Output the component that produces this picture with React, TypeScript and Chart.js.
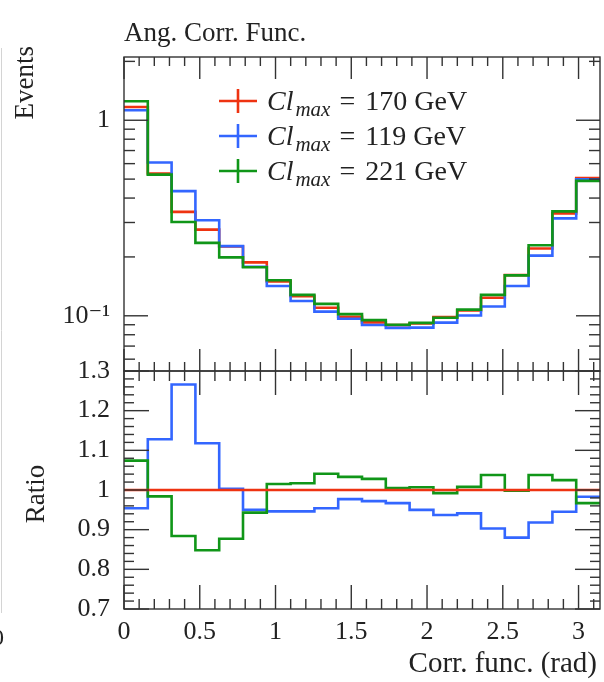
import React, { useEffect, useRef } from "react";
import { Chart, registerables } from "chart.js";

Chart.register(...registerables);

// ---------- data ----------
const nBins = 20;
const xMax = Math.PI;
const binEdges = Array.from({ length: nBins + 1 }, (_, i) => (i * xMax) / nBins);

const seriesNames = ["170 GeV", "119 GeV", "221 GeV"];
const seriesColors = ["#EE3311", "#3366FF", "#109618"];

const events170 = [1.169, 0.534, 0.340, 0.276, 0.226, 0.1875, 0.150, 0.126, 0.110, 0.0988,
  0.0925, 0.0896, 0.0915, 0.0985, 0.1066, 0.1236, 0.1615, 0.221, 0.334, 0.507];
const events119 = [1.125, 0.608, 0.434, 0.308, 0.227, 0.178, 0.142, 0.119, 0.105, 0.0965,
  0.0897, 0.0867, 0.0870, 0.0923, 0.1003, 0.1116, 0.142, 0.203, 0.315, 0.499];
const events221 = [1.251, 0.527, 0.302, 0.236, 0.199, 0.177, 0.152, 0.128, 0.115, 0.102,
  0.0950, 0.0900, 0.0920, 0.0977, 0.1075, 0.128, 0.161, 0.2295, 0.342, 0.490];

const ratio170 = [1, 1, 1, 1, 1, 1, 1, 1, 1, 1, 1, 1, 1, 1, 1, 1, 1, 1, 1, 1];
const ratio119 = [0.954, 1.128, 1.266, 1.118, 1.003, 0.950, 0.946, 0.946, 0.954, 0.977,
  0.972, 0.967, 0.950, 0.937, 0.941, 0.903, 0.880, 0.918, 0.945, 0.983];
const ratio221 = [1.074, 0.984, 0.884, 0.848, 0.877, 0.943, 1.015, 1.017, 1.041, 1.033,
  1.028, 1.005, 1.007, 0.992, 1.008, 1.038, 0.998, 1.038, 1.025, 0.967];

const xTickValues = [0, 0.5, 1, 1.5, 2, 2.5, 3];
const xTickLabels = ["0", "0.5", "1", "1.5", "2", "2.5", "3"];
const xMinorValues = [0.1, 0.2, 0.3, 0.4, 0.6, 0.7, 0.8, 0.9, 1.1, 1.2, 1.3, 1.4, 1.6, 1.7, 1.8, 1.9,
  2.1, 2.2, 2.3, 2.4, 2.6, 2.7, 2.8, 2.9, 3.1];

const eventsTickValues = [0.1, 1];
const eventsTickLabels = ["10\u207B\u00B9", "1"];
const eventsMinorValues = [0.06, 0.07, 0.08, 0.09, 0.2, 0.3, 0.4, 0.5, 0.6, 0.7, 0.8, 0.9, 2];
const eventsMin = 0.0522;
const eventsMax = 2.106;

const ratioTickValues = [0.7, 0.8, 0.9, 1, 1.1, 1.2, 1.3];
const ratioTickLabels = ["0.7", "0.8", "0.9", "1", "1.1", "1.2", "1.3"];
const ratioMinorValues = [0.72, 0.74, 0.76, 0.78, 0.82, 0.84, 0.86, 0.88, 0.92, 0.94, 0.96, 0.98,
  1.02, 1.04, 1.06, 1.08, 1.12, 1.14, 1.16, 1.18, 1.22, 1.24, 1.26, 1.28];

const titleText = "Ang. Corr. Func.";
const yTitleTop = "Events";
const yTitleBottom = "Ratio";
const xTitle = "Corr. func. (rad)";

const FONT = "'Liberation Serif', 'DejaVu Serif', serif";

function toSteps(values: number[]) {
  const pts = values.map((v, i) => ({ x: binEdges[i], y: v }));
  pts.push({ x: binEdges[values.length], y: values[values.length - 1] });
  return pts;
}

function lineDs(label: string, values: number[], color: string, axis: string) {
  return {
    label,
    data: toSteps(values),
    yAxisID: axis,
    xAxisID: "x",
    borderColor: color,
    backgroundColor: color,
    borderWidth: 2.6,
    stepped: "before" as const,
    pointRadius: 0,
    fill: false,
    tension: 0,
  };
}

const decorPlugin = {
  id: "decor",
  afterDraw(chart: any) {
    const ctx = chart.ctx as CanvasRenderingContext2D;
    const x = chart.scales.x;
    const yT = chart.scales.y;
    const yB = chart.scales.y2;
    const L = chart.chartArea.left;
    const R = chart.chartArea.right;
    ctx.save();
    ctx.strokeStyle = "#333";
    ctx.lineWidth = 1.4;
    ctx.lineCap = "butt";

    const seg = (x1: number, y1: number, x2: number, y2: number) => {
      ctx.beginPath();
      ctx.moveTo(x1, y1);
      ctx.lineTo(x2, y2);
      ctx.stroke();
    };

    // frames
    ctx.strokeRect(L, yT.top, R - L, yT.bottom - yT.top);
    ctx.strokeRect(L, yB.top, R - L, yB.bottom - yB.top);

    // x ticks on both panels
    const panels = [
      { top: yT.top, bottom: yT.bottom, maj: 22, min: 9 },
      { top: yB.top, bottom: yB.bottom, maj: 24, min: 10 },
    ];
    for (const p of panels) {
      for (const v of xTickValues) {
        const px = x.getPixelForValue(v);
        seg(px, p.top, px, p.top + p.maj);
        seg(px, p.bottom, px, p.bottom - p.maj);
      }
      for (const v of xMinorValues) {
        const px = x.getPixelForValue(v);
        seg(px, p.top, px, p.top + p.min);
        seg(px, p.bottom, px, p.bottom - p.min);
      }
    }
    // y ticks top (log)
    for (const v of eventsTickValues) {
      const py = yT.getPixelForValue(v);
      seg(L, py, L + 24, py);
      seg(R, py, R - 24, py);
    }
    for (const v of eventsMinorValues) {
      const py = yT.getPixelForValue(v);
      seg(L, py, L + 11, py);
      seg(R, py, R - 11, py);
    }
    // y ticks bottom (ratio)
    for (const v of ratioTickValues) {
      const py = yB.getPixelForValue(v);
      seg(L, py, L + 25, py);
      seg(R, py, R - 25, py);
    }
    for (const v of ratioMinorValues) {
      const py = yB.getPixelForValue(v);
      seg(L, py, L + 10, py);
      seg(R, py, R - 10, py);
    }

    // faint edge of the neighbouring panel
    ctx.strokeStyle = "#d4d4d4";
    ctx.lineWidth = 1;
    seg(1.5, 48, 1.5, 613);

    ctx.fillStyle = "#222";
    // title
    ctx.font = `27px ${FONT}`;
    ctx.textAlign = "left";
    ctx.textBaseline = "alphabetic";
    ctx.fillText(titleText, L, 41);

    // x title
    ctx.font = `29px ${FONT}`;
    ctx.textAlign = "right";
    ctx.fillText(xTitle, R - 3, 672);

    // partial neighbour tick label
    ctx.font = `24px ${FONT}`;
    ctx.textAlign = "left";
    ctx.fillText("0", -8, 645);

    // y titles
    ctx.font = `27px ${FONT}`;
    ctx.save();
    ctx.translate(33, 46);
    ctx.rotate(-Math.PI / 2);
    ctx.textAlign = "right";
    ctx.textBaseline = "alphabetic";
    ctx.fillText(yTitleTop, 0, 0);
    ctx.restore();
    ctx.save();
    ctx.translate(44, (yB.top + yB.bottom) / 2 + 4);
    ctx.rotate(-Math.PI / 2);
    ctx.textAlign = "center";
    ctx.textBaseline = "alphabetic";
    ctx.fillText(yTitleBottom, 0, 0);
    ctx.restore();

    // legend
    const legendOrder = [0, 1, 2];
    legendOrder.forEach((k, i) => {
      const cy = 101 + i * 35;
      ctx.strokeStyle = seriesColors[k];
      ctx.lineWidth = 2.6;
      seg(219, cy, 257, cy);
      seg(238, cy - 12, 238, cy + 12);
      ctx.fillStyle = "#222";
      let tx = 267;
      const base = cy + 9;
      ctx.textAlign = "left";
      ctx.font = `italic 28px ${FONT}`;
      ctx.fillText("Cl", tx, base);
      tx += ctx.measureText("Cl").width + 2;
      ctx.font = `italic 21px ${FONT}`;
      ctx.fillText("max", tx, base + 6);
      tx += ctx.measureText("max").width + 9;
      ctx.font = `28px ${FONT}`;
      ctx.fillText("=", tx, base);
      tx += ctx.measureText("=").width + 10;
      ctx.fillText(seriesNames[k], tx, base);
    });

    ctx.restore();
  },
};

export default function App() {
  const ref = useRef<HTMLCanvasElement>(null);
  useEffect(() => {
    if (!ref.current) return;
    const tickFont = { family: FONT, size: 26 };
    const chart = new Chart(ref.current, {
      type: "line",
      data: {
        datasets: [
          lineDs(seriesNames[2], events221, seriesColors[2], "y"),
          lineDs(seriesNames[1], events119, seriesColors[1], "y"),
          lineDs(seriesNames[0], events170, seriesColors[0], "y"),
          lineDs(seriesNames[0] + " ratio", ratio170, seriesColors[0], "y2"),
          lineDs(seriesNames[2] + " ratio", ratio221, seriesColors[2], "y2"),
          lineDs(seriesNames[1] + " ratio", ratio119, seriesColors[1], "y2"),
        ] as any,
      },
      options: {
        animation: false,
        responsive: false,
        maintainAspectRatio: false,
        layout: { padding: { left: 0, right: 4, top: 57, bottom: 0 } },
        plugins: {
          legend: { display: false },
          tooltip: { enabled: false },
          title: { display: false },
        },
        scales: {
          x: {
            type: "linear",
            position: "bottom",
            min: 0,
            max: xMax,
            grid: { display: false, drawTicks: false },
            border: { display: false },
            ticks: {
              autoSkip: false,
              maxRotation: 0,
              padding: 8,
              color: "#222",
              font: tickFont,
              callback: (v: any) => {
                const i = xTickValues.indexOf(Number(v));
                return i >= 0 ? xTickLabels[i] : "";
              },
            },
            afterBuildTicks: (s: any) => {
              s.ticks = xTickValues.map((v) => ({ value: v }));
            },
            afterFit: (s: any) => {
              s.height = 73;
            },
          },
          y2: {
            type: "linear",
            position: "left",
            stack: "panels",
            stackWeight: 238,
            min: 0.7,
            max: 1.3,
            grid: { display: false, drawTicks: false },
            border: { display: false },
            ticks: {
              autoSkip: false,
              padding: 14,
              color: "#222",
              font: tickFont,
              callback: (v: any) => {
                const i = ratioTickValues.findIndex((t) => Math.abs(t - Number(v)) < 1e-9);
                return i >= 0 ? ratioTickLabels[i] : "";
              },
            },
            afterBuildTicks: (s: any) => {
              s.ticks = ratioTickValues.map((v) => ({ value: v }));
            },
            afterFit: (s: any) => {
              s.width = 124;
            },
          },
          y: {
            type: "logarithmic",
            position: "left",
            stack: "panels",
            stackWeight: 314,
            min: eventsMin,
            max: eventsMax,
            grid: { display: false, drawTicks: false },
            border: { display: false },
            ticks: {
              autoSkip: false,
              padding: 14,
              color: "#222",
              font: tickFont,
              callback: (v: any) => {
                const i = eventsTickValues.findIndex((t) => Math.abs(t - Number(v)) < 1e-9);
                return i >= 0 ? eventsTickLabels[i] : "";
              },
            },
            afterBuildTicks: (s: any) => {
              s.ticks = eventsTickValues.map((v) => ({ value: v }));
            },
            afterFit: (s: any) => {
              s.width = 124;
            },
          },
        },
      } as any,
      plugins: [decorPlugin],
    });
    return () => chart.destroy();
  }, []);

  return (
    <div style={{ position: "fixed", left: 0, top: 0, width: 604, height: 682, background: "#fff" }}>
      <canvas ref={ref} width={604} height={682} style={{ width: 604, height: 682, display: "block" }} />
    </div>
  );
}
